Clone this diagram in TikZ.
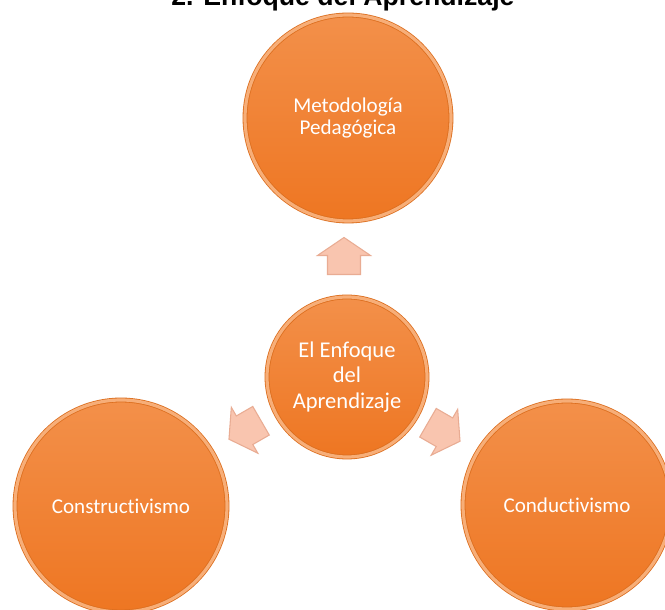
\documentclass[tikz,border=0pt]{standalone}
\usepackage{fontspec}
\setmainfont{Carlito}[Ligatures=NoCommon]
\newfontfamily\titlefont{Liberation Sans}
\usetikzlibrary{shapes.geometric}
\definecolor{orfillA}{HTML}{F3904A}
\definecolor{orfillB}{HTML}{EE7622}
\definecolor{orring}{HTML}{F7AE78}
\definecolor{oredge}{HTML}{DC6E1E}
\definecolor{arfill}{HTML}{F9C5AF}
\definecolor{aredge}{HTML}{E9AC93}
\tikzset{
  ball/.style={circle, draw=oredge, line width=0.6pt, double=orring, double distance=2.4pt,
    top color=orfillA, bottom color=orfillB, text=white, align=center,
    font=\fontsize{15.8pt}{16.5pt}\selectfont, inner sep=0pt},
  arfillstyle/.style={fill=arfill, draw=aredge, line width=0.8pt, line join=miter},
  blockarrow/.pic={\filldraw[arfillstyle] (-18.5,-16.5) -- (0.5,-16.5) -- (0.5,-26.5) -- (18.5,0)
      -- (0.5,26.5) -- (0.5,16.5) -- (-18.5,16.5) -- cycle;}
}
\begin{document}
\begin{tikzpicture}[x=0.75pt,y=0.75pt]
\useasboundingbox (0,0) rectangle (665,610);
\clip (0,0) rectangle (665,610);
\fill[white] (0,0) rectangle (665,610);
% title (cut off at the top, as in the reference)
\node[anchor=base west, inner sep=0pt, font=\titlefont\bfseries\fontsize{20pt}{24pt}\selectfont] (title) at (171,604.5) {2. Enfoque del Aprendizaje};
% circles
\node[ball, minimum size=154.5pt] (top) at (348,492) {Metodología\\Pedagógica};
\node[ball, minimum size=120pt, font=\fontsize{16.9pt}{19pt}\selectfont] (center) at (347,233) {El Enfoque\\del\\Aprendizaje};
\node[ball, minimum size=159pt] (left) at (121,104) {Constructivismo};
\node[ball, minimum size=156pt] (right) at (567,105) {Conductivismo};
% block arrows
\coordinate (aup) at (344,354);
\coordinate (aleft) at (245,180);
\coordinate (aright) at (444,178);
\pic[rotate=90] (arrowup) at (aup) {blockarrow};
\pic[rotate=210] (arrowleft) at (aleft) {blockarrow};
\pic[rotate=-30] (arrowright) at (aright) {blockarrow};
\end{tikzpicture}
\end{document}
